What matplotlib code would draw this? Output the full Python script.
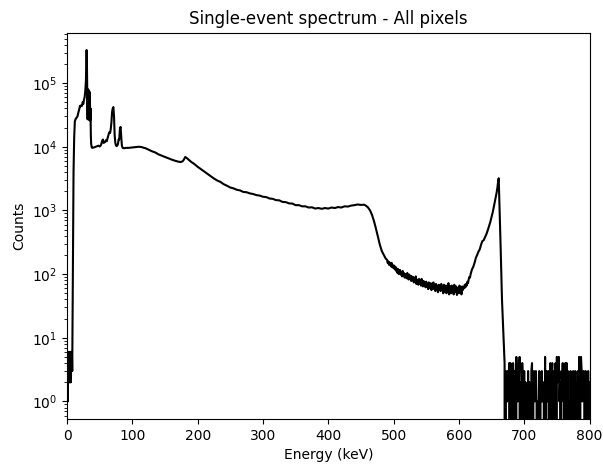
import numpy as np
import matplotlib
matplotlib.use('Agg')
import matplotlib.pyplot as plt

# low energy noise below threshold (keV, counts)
low_energy = [0, 0.5, 1, 1.5, 2, 2.5, 3, 3.5, 4, 4.5, 5, 5.5, 6, 6.5, 7, 7.5, 8]
low_counts = [1, 6, 1, 5, 2, 6, 2, 6, 2, 5, 2, 6, 2, 6, 3, 6, 3]

# rise and x-ray peaks
peak_energy = [8.5, 9, 9.5, 10, 11, 12, 13, 14, 15, 16, 17, 18, 19, 20, 21, 22, 23, 24, 25, 26, 27,
               28, 29, 30, 30.5, 31, 31.5, 32, 32.5, 33, 33.5, 34, 34.5, 35, 35.5, 36, 36.5, 37, 38,
               39, 40, 42, 44, 46, 48, 50, 52, 54, 55, 56, 58, 60, 61, 62, 64, 65, 66, 67, 68, 69,
               70, 71, 72, 73, 74, 75, 76, 77, 78, 79, 80, 81, 82, 83, 84, 85, 86, 88, 90, 94, 98,
               102, 106, 110, 114, 118]
peak_counts = [20, 150, 900, 4000, 14000, 25000, 27000, 28000, 29000, 30000, 33000, 36000, 40000,
               44000, 43000, 45000, 44000, 50000, 47000, 55000, 60000, 75000, 110000, 330000, 200000,
               80000, 27000, 80000, 28000, 78000, 27000, 75000, 26000, 70000, 26000, 40000, 15000,
               11000, 9700, 9600, 9700, 9800, 10000, 10200, 10400, 10100, 10600, 12500, 13000, 11500,
               11800, 12800, 12200, 13500, 16000, 17000, 16500, 19000, 24000, 35000, 40000, 42000,
               30000, 15000, 11500, 10500, 10200, 10500, 11000, 13000, 13000, 19000, 20500, 15000,
               10500, 9700, 9500, 9500, 9600, 9600, 9700, 9800, 9900, 10000, 9900, 9600]

# compton continuum and edge
compton_energy = [120, 125, 130, 135, 140, 145, 150, 155, 160, 165, 170, 174, 177, 179, 181, 183,
                  186, 190, 195, 200, 205, 210, 215, 220, 225, 230, 235, 240, 245, 250, 255, 260,
                  265, 270, 275, 280, 285, 290, 295, 300, 305, 310, 315, 320, 325, 330, 335, 340,
                  345, 350, 355, 360, 365, 370, 375, 380, 385, 390, 395, 400, 405, 410, 415, 420,
                  425, 430, 435, 440, 445, 450, 455, 458, 461, 464, 467, 470, 473, 476, 479, 482,
                  485, 488]
compton_counts = [9500, 9000, 8500, 8150, 7600, 7250, 6900, 6600, 6300, 6050, 5850, 5750, 5900,
                  6300, 6900, 6700, 6300, 5800, 5350, 4850, 4450, 4080, 3750, 3450, 3170, 2950,
                  2800, 2580, 2440, 2290, 2220, 2110, 2060, 1950, 1930, 1850, 1810, 1740, 1710,
                  1640, 1620, 1540, 1520, 1450, 1440, 1360, 1350, 1290, 1280, 1210, 1210, 1160,
                  1160, 1110, 1120, 1070, 1090, 1060, 1090, 1070, 1110, 1090, 1130, 1110, 1160,
                  1150, 1190, 1210, 1240, 1220, 1230, 1180, 1110, 1000, 850, 680, 520, 390, 290,
                  230, 200, 175]

# valley between compton edge and photopeak, 1 keV bins from 490 to 620
valley_counts = [168, 150, 158, 140, 152, 146, 132, 150, 128, 138,
                 124, 136, 118, 130, 112, 122, 104, 120, 100, 112,
                 116, 98, 108, 92, 112, 96, 104, 88, 100, 94,
                 86, 104, 90, 82, 98, 84, 94, 78, 92, 80,
                 90, 74, 86, 78, 92, 70, 82, 76, 68, 84,
                 72, 80, 66, 84, 70, 64, 78, 68, 74, 62,
                 76, 64, 70, 58, 74, 66, 60, 72, 56, 68,
                 62, 74, 58, 66, 54, 70, 60, 64, 52, 68,
                 58, 66, 54, 70, 56, 62, 50, 68, 58, 52,
                 66, 50, 62, 56, 72, 48, 60, 64, 50, 66,
                 54, 62, 48, 68, 56, 52, 64, 47, 60, 58,
                 50, 66, 54, 58, 48, 64, 56, 62, 60, 68,
                 62, 70, 66, 76, 72, 82, 90, 88, 100, 108,
                 118]
valley_energy = list(range(490, 490 + len(valley_counts)))

# photopeak
photo_energy = [622, 624, 626, 628, 630, 632, 634, 636, 638, 640, 642, 644, 646, 648, 650, 652, 654,
                656, 658, 659, 660, 661, 662, 663, 664, 665, 666, 667, 668, 669]
photo_counts = [130, 150, 180, 200, 225, 245, 290, 330, 340, 380, 420, 480, 560, 650, 780, 950,
                1200, 1500, 1950, 2300, 2800, 3200, 1400, 600, 250, 100, 40, 22, 12, 7]

# noise above the photopeak, 1 keV bins from 670 to 800
tail_counts = [4, 0, 3, 2, 1, 3, 2, 4, 0, 4,
               0, 2, 0, 4, 1, 0, 3, 0, 5, 2,
               1, 3, 2, 5, 0, 2, 0, 4, 1, 0,
               3, 0, 2, 0, 1, 0, 3, 0, 2, 1,
               0, 3, 4, 0, 2, 3, 1, 2, 3, 1,
               0, 1, 0, 3, 0, 2, 1, 3, 1, 2,
               1, 0, 5, 0, 3, 2, 1, 3, 2, 0,
               4, 0, 2, 4, 0, 1, 3, 0, 4, 0,
               5, 2, 3, 5, 1, 2, 0, 3, 2, 4,
               1, 2, 0, 4, 0, 4, 0, 3, 0, 1,
               0, 3, 0, 2, 0, 3, 1, 0, 3, 0,
               2, 0, 3, 0, 5, 0, 2, 5, 3, 1,
               2, 3, 1, 0, 3, 0, 1, 0, 3, 0,
               2]
tail_energy = list(range(670, 670 + len(tail_counts)))

energy = np.concatenate([low_energy, peak_energy, compton_energy, valley_energy, photo_energy, tail_energy])
counts = np.concatenate([low_counts, peak_counts, compton_counts, valley_counts, photo_counts, tail_counts])

fig = plt.figure(figsize=(6.03, 4.68), dpi=100)
ax = fig.add_axes([67 / 603, 49 / 468, 522.5 / 603, 386.5 / 468])
ax.plot(energy, counts, 'k-', linewidth=1.5)
ax.set_yscale('log')
ax.set_xlim(0, 800)
ax.set_xlabel('Energy (keV)')
ax.set_ylabel('Counts')
ax.set_title('Single-event spectrum - All pixels')

fig.savefig('out.png', dpi=100)
